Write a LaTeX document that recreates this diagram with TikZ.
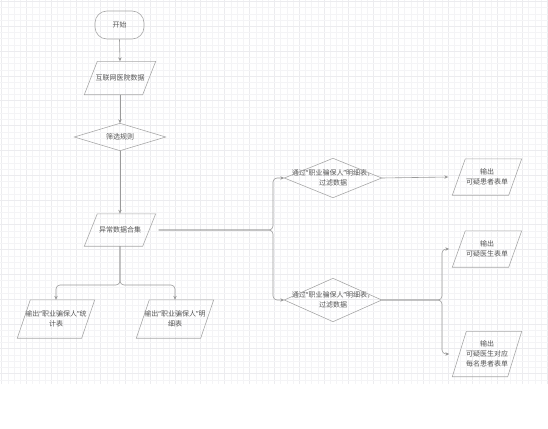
\documentclass[tikz,border=0pt]{standalone}
\usepackage{fontspec}
\setmainfont{Noto Sans CJK SC}
\newfontfamily\latinq{Noto Sans}
\newcommand\myoq{{\latinq “}}
\newcommand\mycq{{\latinq ”}}
\usetikzlibrary{arrows.meta,calc}
\definecolor{gridc}{HTML}{F4F4F6}
\definecolor{gridm}{HTML}{ECECEF}
\definecolor{shapec}{HTML}{A8A8A8}
\definecolor{linec}{HTML}{9A9A9A}
\definecolor{textc}{HTML}{555555}
\tikzset{
  box/.style={draw=none, inner sep=0pt, align=center, text=textc,
    font=\fontsize{7}{10}\selectfont},
  outline/.style={draw=shapec, line width=0.6pt},
  conn/.style={draw=linec, line width=0.6pt, rounded corners=4pt},
  arr/.style={conn, -{Stealth[length=4pt,width=3.4pt]}},
}
\newcommand\parashape[2]{\draw[outline] ([xshift=#2]#1.north west) -- (#1.north east) -- ([xshift=-#2]#1.south east) -- (#1.south west) -- cycle;}
\newcommand\diashape[1]{\draw[outline] (#1.north) -- (#1.east) -- (#1.south) -- (#1.west) -- cycle;}
\begin{document}
\begin{tikzpicture}[x=1pt,y=-1pt]
\useasboundingbox (0,0) rectangle (548,428);
% grid background
\foreach \i in {0,...,88} {
  \pgfmathsetmacro\xx{1.5+6.2*\i}
  \pgfmathtruncatemacro\mm{mod(\i,4)}
  \ifnum\mm=0 \draw[gridm,line width=0.5pt] (\xx,0) -- (\xx,384);
  \else \draw[gridc,line width=0.4pt] (\xx,0) -- (\xx,384); \fi
}
\foreach \j in {0,...,61} {
  \pgfmathsetmacro\yy{1.5+6.2*\j}
  \pgfmathtruncatemacro\mm{mod(\j,4)}
  \ifnum\mm=0 \draw[gridm,line width=0.5pt] (0,\yy) -- (548,\yy);
  \else \draw[gridc,line width=0.4pt] (0,\yy) -- (548,\yy); \fi
}
% nodes
\node[box, draw=shapec, line width=0.6pt, rounded corners=12pt, minimum width=49pt, minimum height=28pt] (start) at (119.5,25) {开始};
\node[box, minimum width=71pt, minimum height=33pt] (data) at (120,78) {互联网医院数据};
\parashape{data}{13pt}
\node[box, minimum width=91pt, minimum height=27pt] (rule) at (120,137) {筛选规则};
\diashape{rule}
\node[box, minimum width=71pt, minimum height=32pt] (abn) at (120,230) {异常数据合集};
\parashape{abn}{13pt}
\node[box, minimum width=77pt, minimum height=38pt] (stat) at (56,319) {输出\myoq 职业骗保人\mycq 统\\计表};
\parashape{stat}{13pt}
\node[box, minimum width=77pt, minimum height=38pt] (detail) at (175,319) {输出\myoq 职业骗保人\mycq 明\\细表};
\parashape{detail}{13pt}
\node[box, minimum width=97pt, minimum height=39pt] (fa) at (333,178) {通过\myoq 职业骗保人\mycq 明细表，\\过滤数据};
\diashape{fa}
\node[box, minimum width=97pt, minimum height=43pt] (fb) at (333,300) {通过\myoq 职业骗保人\mycq 明细表，\\过滤数据};
\diashape{fb}
\node[box, minimum width=69pt, minimum height=36pt] (op) at (487,177) {输出\\可疑患者表单};
\parashape{op}{13pt}
\node[box, minimum width=69pt, minimum height=36pt] (od) at (487,249) {输出\\可疑医生表单};
\parashape{od}{13pt}
\node[box, minimum width=69pt, minimum height=45pt] (odp) at (487,354) {输出\\可疑医生对应\\每名患者表单};
\parashape{odp}{14pt}
% junctions
\coordinate (j1) at (120,285);
\coordinate (j2) at (273,230);
\coordinate (j3) at (442,300);
% connectors
\draw[arr] (start.south) -- (data.north);
\draw[arr] (data.south) -- (rule.north);
\draw[arr] (rule.south) -- (abn.north);
\draw[arr] (abn.south) -- (j1) -| (stat.north);
\draw[arr] (abn.south) -- (j1) -| (detail.north);
\draw[arr] ([xshift=3pt]abn.east) -- (j2) |- (fa.west);
\draw[arr] ([xshift=3pt]abn.east) -- (j2) |- (fb.west);
\draw[arr] (fa.east) -- ([xshift=-4pt]op.west);
\draw[arr] (fb.east) -- (j3) |- ([xshift=-3pt]od.west);
\draw[arr] (fb.east) -- (j3) |- ([xshift=-3pt]odp.west);
\end{tikzpicture}
\end{document}
